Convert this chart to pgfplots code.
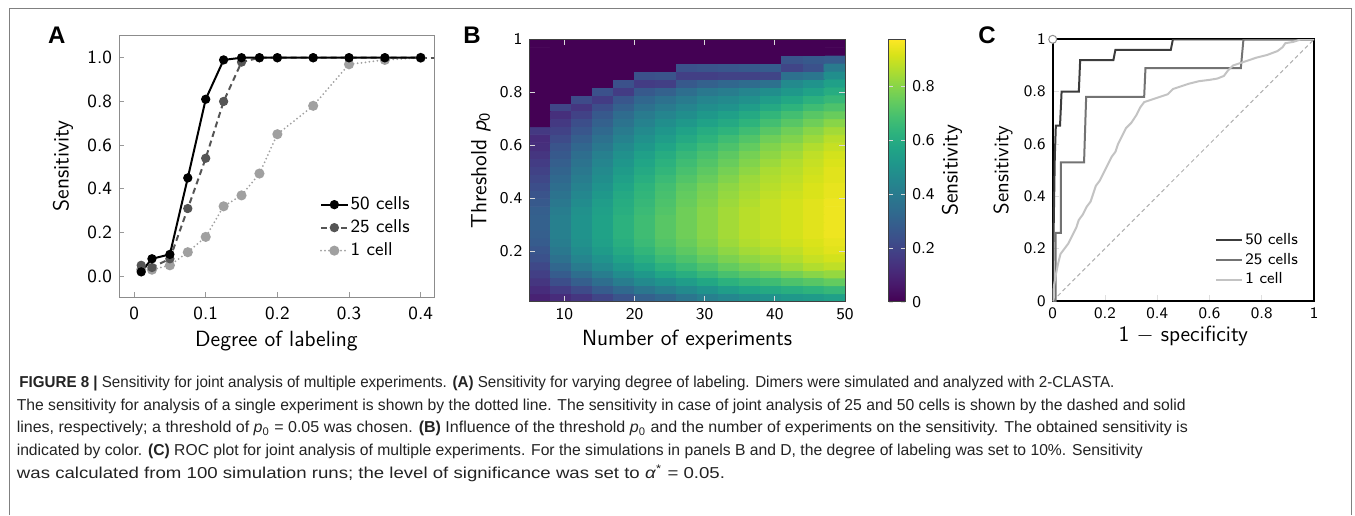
\documentclass[border=0pt]{standalone}
\usepackage{fontspec}
\usepackage{graphicx}
\usepackage{pgfplots}
\pgfplotsset{compat=1.18}
\newfontfamily\capfont{Liberation Sans}
\definecolor{aTwo}{RGB}{85,85,85}
\definecolor{aOne}{RGB}{160,160,160}
\definecolor{cFifty}{RGB}{60,60,60}
\definecolor{cTwo}{RGB}{115,115,115}
\definecolor{cOne}{RGB}{195,195,195}
\definecolor{capcol}{RGB}{35,35,35}

\begin{document}
\begin{tikzpicture}
\path[use as bounding box] (0pt,0pt) rectangle (677.5pt,-257.5pt);
\draw[black!50, line width=0.5pt] (4.5pt,-257.5pt) -- (4.5pt,-4pt) -- (675.5pt,-4pt) -- (675.5pt,-257.5pt);

% panel letters
\node[anchor=base west, inner sep=0pt] at (23.8pt,-21.9pt) {\capfont\fontsize{12}{14}\selectfont\bfseries A};
\node[anchor=base west, inner sep=0pt] at (231.5pt,-21.9pt) {\capfont\fontsize{12}{14}\selectfont\bfseries B};
\node[anchor=base west, inner sep=0pt] at (489pt,-21.9pt) {\capfont\fontsize{12}{14}\selectfont\bfseries C};

% ---------- A ----------
\begin{axis}[
  at={(59.5pt,-148.5pt)}, anchor=south west,
  width=157.5pt, height=131pt, scale only axis,
  xmin=-0.021, xmax=0.4186, ymin=-0.095, ymax=1.104,
  xtick={0,0.1,0.2,0.3,0.4}, xticklabels={0,0.1,0.2,0.3,0.4},
  ytick={0,0.2,0.4,0.6,0.8,1}, yticklabels={0.0,0.2,0.4,0.6,0.8,1.0},
  tick align=inside, tick pos=left, major tick length=2.5pt,
  axis line style={draw=black!45},
  tick style={black!40, line width=0.4pt},
  ticklabel style={font=\fontsize{9.3}{11}\selectfont\sffamily},
  xticklabel style={yshift=-1.5pt},
  xlabel={Degree of labeling}, ylabel={Sensitivity},
  label style={font=\fontsize{11}{13}\selectfont\sffamily},
  xlabel style={at={(axis description cs:0.5,0)}, anchor=base, yshift=-24.5pt},
  ylabel style={at={(axis description cs:0,0.5)}, anchor=center, yshift=28pt},
  legend style={draw=none, fill=none, at={(0.637,0.396)}, anchor=north west,
    inner sep=0pt, font=\fontsize{9.3}{11}\selectfont\sffamily,
    nodes={inner sep=1pt, text height=7pt, text depth=2pt}, row sep=0.5pt},
  legend cell align=left, reverse legend,
  legend image code/.code={\draw[mark repeat=2,mark phase=2,#1] plot coordinates {(0pt,0pt) (6.65pt,0pt) (13.3pt,0pt)};},
]
\addplot[aOne, line width=1pt, line cap=round, dash pattern=on 0pt off 2pt, mark=*, mark size=2pt, mark options={solid, fill=aOne}] coordinates {
(0.01,0.03) (0.025,0.03) (0.05,0.05) (0.075,0.11) (0.1,0.18) (0.125,0.32) (0.15,0.37)
(0.175,0.47) (0.2,0.65) (0.25,0.78) (0.3,0.97) (0.35,0.99) (0.4,1.0)};
\addlegendentry{1 cell}
\addplot[aTwo, line width=1pt, dash pattern=on 3pt off 2pt, forget plot] coordinates {(0.4,1.0) (0.45,1.0)};
\addplot[aTwo, line width=1pt, dash pattern=on 3pt off 2pt, mark=*, mark size=1.8pt, mark options={solid, fill=aTwo}] coordinates {
(0.01,0.05) (0.025,0.04) (0.05,0.08) (0.075,0.31) (0.1,0.54) (0.125,0.80) (0.15,0.98)
(0.175,1.0) (0.2,1.0) (0.25,1.0) (0.3,1.0) (0.35,1.0) (0.4,1.0)};
\addlegendentry{25 cells}
\addplot[black, line width=1pt, mark=*, mark size=1.8pt, mark options={solid, fill=black}] coordinates {
(0.01,0.02) (0.025,0.08) (0.05,0.10) (0.075,0.45) (0.1,0.81) (0.125,0.99) (0.15,1.0)
(0.175,1.0) (0.2,1.0) (0.25,1.0) (0.3,1.0) (0.35,1.0) (0.4,1.0)};
\addlegendentry{50 cells}
\end{axis}

% ---------- B ----------
\begin{axis}[
  at={(264.65pt,-150.85pt)}, anchor=south west,
  width=157.85pt, height=131.2pt, scale only axis,
  xmin=5, xmax=50, ymin=0.01, ymax=1,
  xtick={10,20,30,40,50}, xticklabels={10,20,30,40,50},
  ytick={0.2,0.4,0.6,0.8,1}, yticklabels={0.2,0.4,0.6,0.8,1},
  tick align=inside, major tick length=3pt,
  tick style={white!70!gray, line width=0.4pt},
  axis line style={draw=black!75},
  axis on top,
  ticklabel style={font=\fontsize{8.2}{10}\selectfont\sffamily},
  xlabel={Number of experiments}, ylabel={Threshold {\itshape p}\textsubscript{0}},
  label style={font=\fontsize{11}{13}\selectfont\sffamily},
  xlabel style={at={(axis description cs:0.5,0)}, anchor=base, yshift=-21.65pt},
  ylabel style={at={(axis description cs:0,0.5)}, anchor=center, yshift=24.2pt},
  colormap/viridis, point meta min=0, point meta max=0.973,
  colorbar,
  colorbar style={at={(parent axis.north east)}, anchor=north west, xshift=13.35pt, width=8.3pt,
    ytick={0,0.2,0.4,0.6,0.8}, yticklabels={0,0.2,0.4,0.6,0.8},
    tick align=inside, major tick length=2pt, tick style={white!70!gray},
    axis line style={draw=black!75},
    yticklabel style={font=\fontsize{8.2}{10}\selectfont\sffamily},
    ylabel={Sensitivity},
    ylabel style={font=\fontsize{11}{13}\selectfont\sffamily, at={(axis description cs:1,0.5)}, anchor=center, yshift=-23.35pt}},
]
\addplot[matrix plot*, mesh/cols=15, mesh/rows=33, point meta=explicit] table[row sep=\\, meta=c] {
x y c\\
6.5 0.025 0.09\\ 9.5 0.025 0.12\\ 12.5 0.025 0.15\\ 15.5 0.025 0.20\\ 18.5 0.025 0.25\\ 21.5 0.025 0.30\\ 24.5 0.025 0.33\\ 27.5 0.025 0.38\\ 30.5 0.025 0.42\\ 33.5 0.025 0.45\\ 36.5 0.025 0.48\\ 39.5 0.025 0.50\\ 42.5 0.025 0.52\\ 45.5 0.025 0.53\\ 48.5 0.025 0.55\\
6.5 0.055 0.12\\ 9.5 0.055 0.17\\ 12.5 0.055 0.22\\ 15.5 0.055 0.28\\ 18.5 0.055 0.33\\ 21.5 0.055 0.38\\ 24.5 0.055 0.42\\ 27.5 0.055 0.46\\ 30.5 0.055 0.50\\ 33.5 0.055 0.54\\ 36.5 0.055 0.57\\ 39.5 0.055 0.59\\ 42.5 0.055 0.61\\ 45.5 0.055 0.63\\ 48.5 0.055 0.65\\
6.5 0.085 0.15\\ 9.5 0.085 0.23\\ 12.5 0.085 0.29\\ 15.5 0.085 0.35\\ 18.5 0.085 0.41\\ 21.5 0.085 0.46\\ 24.5 0.085 0.50\\ 27.5 0.085 0.54\\ 30.5 0.085 0.58\\ 33.5 0.085 0.62\\ 36.5 0.085 0.65\\ 39.5 0.085 0.67\\ 42.5 0.085 0.70\\ 45.5 0.085 0.72\\ 48.5 0.085 0.74\\
6.5 0.115 0.18\\ 9.5 0.115 0.28\\ 12.5 0.115 0.35\\ 15.5 0.115 0.41\\ 18.5 0.115 0.47\\ 21.5 0.115 0.52\\ 24.5 0.115 0.57\\ 27.5 0.115 0.61\\ 30.5 0.115 0.65\\ 33.5 0.115 0.69\\ 36.5 0.115 0.72\\ 39.5 0.115 0.74\\ 42.5 0.115 0.77\\ 45.5 0.115 0.80\\ 48.5 0.115 0.82\\
6.5 0.145 0.21\\ 9.5 0.145 0.32\\ 12.5 0.145 0.40\\ 15.5 0.145 0.46\\ 18.5 0.145 0.52\\ 21.5 0.145 0.57\\ 24.5 0.145 0.62\\ 27.5 0.145 0.66\\ 30.5 0.145 0.70\\ 33.5 0.145 0.74\\ 36.5 0.145 0.77\\ 39.5 0.145 0.80\\ 42.5 0.145 0.83\\ 45.5 0.145 0.86\\ 48.5 0.145 0.88\\
6.5 0.175 0.24\\ 9.5 0.175 0.36\\ 12.5 0.175 0.44\\ 15.5 0.175 0.50\\ 18.5 0.175 0.56\\ 21.5 0.175 0.61\\ 24.5 0.175 0.66\\ 27.5 0.175 0.70\\ 30.5 0.175 0.74\\ 33.5 0.175 0.78\\ 36.5 0.175 0.81\\ 39.5 0.175 0.83\\ 42.5 0.175 0.86\\ 45.5 0.175 0.89\\ 48.5 0.175 0.91\\
6.5 0.205 0.26\\ 9.5 0.205 0.39\\ 12.5 0.205 0.47\\ 15.5 0.205 0.53\\ 18.5 0.205 0.59\\ 21.5 0.205 0.64\\ 24.5 0.205 0.69\\ 27.5 0.205 0.73\\ 30.5 0.205 0.77\\ 33.5 0.205 0.81\\ 36.5 0.205 0.84\\ 39.5 0.205 0.86\\ 42.5 0.205 0.88\\ 45.5 0.205 0.91\\ 48.5 0.205 0.93\\
6.5 0.235 0.28\\ 9.5 0.235 0.41\\ 12.5 0.235 0.49\\ 15.5 0.235 0.55\\ 18.5 0.235 0.61\\ 21.5 0.235 0.66\\ 24.5 0.235 0.71\\ 27.5 0.235 0.75\\ 30.5 0.235 0.79\\ 33.5 0.235 0.83\\ 36.5 0.235 0.86\\ 39.5 0.235 0.88\\ 42.5 0.235 0.90\\ 45.5 0.235 0.92\\ 48.5 0.235 0.94\\
6.5 0.265 0.29\\ 9.5 0.265 0.42\\ 12.5 0.265 0.50\\ 15.5 0.265 0.56\\ 18.5 0.265 0.62\\ 21.5 0.265 0.67\\ 24.5 0.265 0.72\\ 27.5 0.265 0.76\\ 30.5 0.265 0.80\\ 33.5 0.265 0.84\\ 36.5 0.265 0.87\\ 39.5 0.265 0.89\\ 42.5 0.265 0.91\\ 45.5 0.265 0.93\\ 48.5 0.265 0.95\\
6.5 0.295 0.30\\ 9.5 0.295 0.42\\ 12.5 0.295 0.50\\ 15.5 0.295 0.56\\ 18.5 0.295 0.62\\ 21.5 0.295 0.67\\ 24.5 0.295 0.72\\ 27.5 0.295 0.76\\ 30.5 0.295 0.80\\ 33.5 0.295 0.84\\ 36.5 0.295 0.87\\ 39.5 0.295 0.89\\ 42.5 0.295 0.91\\ 45.5 0.295 0.93\\ 48.5 0.295 0.95\\
6.5 0.325 0.30\\ 9.5 0.325 0.42\\ 12.5 0.325 0.50\\ 15.5 0.325 0.56\\ 18.5 0.325 0.62\\ 21.5 0.325 0.67\\ 24.5 0.325 0.72\\ 27.5 0.325 0.76\\ 30.5 0.325 0.80\\ 33.5 0.325 0.84\\ 36.5 0.325 0.87\\ 39.5 0.325 0.89\\ 42.5 0.325 0.91\\ 45.5 0.325 0.93\\ 48.5 0.325 0.95\\
6.5 0.355 0.29\\ 9.5 0.355 0.41\\ 12.5 0.355 0.49\\ 15.5 0.355 0.55\\ 18.5 0.355 0.61\\ 21.5 0.355 0.66\\ 24.5 0.355 0.71\\ 27.5 0.355 0.76\\ 30.5 0.355 0.80\\ 33.5 0.355 0.84\\ 36.5 0.355 0.87\\ 39.5 0.355 0.89\\ 42.5 0.355 0.91\\ 45.5 0.355 0.93\\ 48.5 0.355 0.95\\
6.5 0.385 0.27\\ 9.5 0.385 0.39\\ 12.5 0.385 0.47\\ 15.5 0.385 0.54\\ 18.5 0.385 0.60\\ 21.5 0.385 0.65\\ 24.5 0.385 0.70\\ 27.5 0.385 0.75\\ 30.5 0.385 0.79\\ 33.5 0.385 0.83\\ 36.5 0.385 0.86\\ 39.5 0.385 0.89\\ 42.5 0.385 0.91\\ 45.5 0.385 0.93\\ 48.5 0.385 0.95\\
6.5 0.415 0.25\\ 9.5 0.415 0.37\\ 12.5 0.415 0.45\\ 15.5 0.415 0.52\\ 18.5 0.415 0.59\\ 21.5 0.415 0.64\\ 24.5 0.415 0.69\\ 27.5 0.415 0.74\\ 30.5 0.415 0.78\\ 33.5 0.415 0.82\\ 36.5 0.415 0.85\\ 39.5 0.415 0.88\\ 42.5 0.415 0.90\\ 45.5 0.415 0.92\\ 48.5 0.415 0.94\\
6.5 0.445 0.23\\ 9.5 0.445 0.35\\ 12.5 0.445 0.43\\ 15.5 0.445 0.50\\ 18.5 0.445 0.57\\ 21.5 0.445 0.63\\ 24.5 0.445 0.68\\ 27.5 0.445 0.73\\ 30.5 0.445 0.77\\ 33.5 0.445 0.81\\ 36.5 0.445 0.84\\ 39.5 0.445 0.87\\ 42.5 0.445 0.89\\ 45.5 0.445 0.92\\ 48.5 0.445 0.94\\
6.5 0.475 0.21\\ 9.5 0.475 0.33\\ 12.5 0.475 0.41\\ 15.5 0.475 0.48\\ 18.5 0.475 0.55\\ 21.5 0.475 0.61\\ 24.5 0.475 0.66\\ 27.5 0.475 0.71\\ 30.5 0.475 0.75\\ 33.5 0.475 0.79\\ 36.5 0.475 0.83\\ 39.5 0.475 0.86\\ 42.5 0.475 0.88\\ 45.5 0.475 0.91\\ 48.5 0.475 0.93\\
6.5 0.505 0.19\\ 9.5 0.505 0.31\\ 12.5 0.505 0.39\\ 15.5 0.505 0.46\\ 18.5 0.505 0.53\\ 21.5 0.505 0.59\\ 24.5 0.505 0.64\\ 27.5 0.505 0.69\\ 30.5 0.505 0.73\\ 33.5 0.505 0.77\\ 36.5 0.505 0.81\\ 39.5 0.505 0.85\\ 42.5 0.505 0.87\\ 45.5 0.505 0.90\\ 48.5 0.505 0.93\\
6.5 0.535 0.17\\ 9.5 0.535 0.29\\ 12.5 0.535 0.37\\ 15.5 0.535 0.44\\ 18.5 0.535 0.51\\ 21.5 0.535 0.57\\ 24.5 0.535 0.62\\ 27.5 0.535 0.67\\ 30.5 0.535 0.71\\ 33.5 0.535 0.75\\ 36.5 0.535 0.79\\ 39.5 0.535 0.83\\ 42.5 0.535 0.86\\ 45.5 0.535 0.89\\ 48.5 0.535 0.92\\
6.5 0.565 0.15\\ 9.5 0.565 0.27\\ 12.5 0.565 0.35\\ 15.5 0.565 0.42\\ 18.5 0.565 0.49\\ 21.5 0.565 0.55\\ 24.5 0.565 0.60\\ 27.5 0.565 0.65\\ 30.5 0.565 0.69\\ 33.5 0.565 0.73\\ 36.5 0.565 0.77\\ 39.5 0.565 0.81\\ 42.5 0.565 0.84\\ 45.5 0.565 0.88\\ 48.5 0.565 0.91\\
6.5 0.595 0.13\\ 9.5 0.595 0.25\\ 12.5 0.595 0.32\\ 15.5 0.595 0.39\\ 18.5 0.595 0.46\\ 21.5 0.595 0.52\\ 24.5 0.595 0.57\\ 27.5 0.595 0.62\\ 30.5 0.595 0.66\\ 33.5 0.595 0.70\\ 36.5 0.595 0.74\\ 39.5 0.595 0.79\\ 42.5 0.595 0.82\\ 45.5 0.595 0.86\\ 48.5 0.595 0.89\\
6.5 0.625 0.12\\ 9.5 0.625 0.22\\ 12.5 0.625 0.29\\ 15.5 0.625 0.36\\ 18.5 0.625 0.43\\ 21.5 0.625 0.49\\ 24.5 0.625 0.54\\ 27.5 0.625 0.59\\ 30.5 0.625 0.63\\ 33.5 0.625 0.67\\ 36.5 0.625 0.71\\ 39.5 0.625 0.76\\ 42.5 0.625 0.79\\ 45.5 0.625 0.83\\ 48.5 0.625 0.87\\
6.5 0.655 0.16\\ 9.5 0.655 0.19\\ 12.5 0.655 0.26\\ 15.5 0.655 0.33\\ 18.5 0.655 0.40\\ 21.5 0.655 0.46\\ 24.5 0.655 0.51\\ 27.5 0.655 0.56\\ 30.5 0.655 0.60\\ 33.5 0.655 0.63\\ 36.5 0.655 0.67\\ 39.5 0.655 0.72\\ 42.5 0.655 0.76\\ 45.5 0.655 0.80\\ 48.5 0.655 0.84\\
6.5 0.685 0\\ 9.5 0.685 0.16\\ 12.5 0.685 0.23\\ 15.5 0.685 0.30\\ 18.5 0.685 0.37\\ 21.5 0.685 0.43\\ 24.5 0.685 0.48\\ 27.5 0.685 0.52\\ 30.5 0.685 0.56\\ 33.5 0.685 0.59\\ 36.5 0.685 0.63\\ 39.5 0.685 0.68\\ 42.5 0.685 0.72\\ 45.5 0.685 0.76\\ 48.5 0.685 0.80\\
6.5 0.715 0\\ 9.5 0.715 0.13\\ 12.5 0.715 0.19\\ 15.5 0.715 0.27\\ 18.5 0.715 0.34\\ 21.5 0.715 0.40\\ 24.5 0.715 0.44\\ 27.5 0.715 0.48\\ 30.5 0.715 0.52\\ 33.5 0.715 0.55\\ 36.5 0.715 0.59\\ 39.5 0.715 0.64\\ 42.5 0.715 0.68\\ 45.5 0.715 0.72\\ 48.5 0.715 0.75\\
6.5 0.745 0\\ 9.5 0.745 0.20\\ 12.5 0.745 0.15\\ 15.5 0.745 0.23\\ 18.5 0.745 0.30\\ 21.5 0.745 0.36\\ 24.5 0.745 0.40\\ 27.5 0.745 0.44\\ 30.5 0.745 0.48\\ 33.5 0.745 0.50\\ 36.5 0.745 0.54\\ 39.5 0.745 0.59\\ 42.5 0.745 0.63\\ 45.5 0.745 0.67\\ 48.5 0.745 0.70\\
6.5 0.775 0\\ 9.5 0.775 0\\ 12.5 0.775 0.22\\ 15.5 0.775 0.17\\ 18.5 0.775 0.26\\ 21.5 0.775 0.32\\ 24.5 0.775 0.36\\ 27.5 0.775 0.40\\ 30.5 0.775 0.44\\ 33.5 0.775 0.46\\ 36.5 0.775 0.49\\ 39.5 0.775 0.54\\ 42.5 0.775 0.58\\ 45.5 0.775 0.62\\ 48.5 0.775 0.65\\
6.5 0.805 0\\ 9.5 0.805 0\\ 12.5 0.805 0\\ 15.5 0.805 0.24\\ 18.5 0.805 0.17\\ 21.5 0.805 0.27\\ 24.5 0.805 0.30\\ 27.5 0.805 0.35\\ 30.5 0.805 0.39\\ 33.5 0.805 0.41\\ 36.5 0.805 0.44\\ 39.5 0.805 0.48\\ 42.5 0.805 0.52\\ 45.5 0.805 0.56\\ 48.5 0.805 0.60\\
6.5 0.835 0\\ 9.5 0.835 0\\ 12.5 0.835 0\\ 15.5 0.835 0\\ 18.5 0.835 0.24\\ 21.5 0.835 0.17\\ 24.5 0.835 0.18\\ 27.5 0.835 0.27\\ 30.5 0.835 0.30\\ 33.5 0.835 0.32\\ 36.5 0.835 0.34\\ 39.5 0.835 0.36\\ 42.5 0.835 0.46\\ 45.5 0.835 0.50\\ 48.5 0.835 0.55\\
6.5 0.865 0\\ 9.5 0.865 0\\ 12.5 0.865 0\\ 15.5 0.865 0\\ 18.5 0.865 0\\ 21.5 0.865 0.24\\ 24.5 0.865 0.25\\ 27.5 0.865 0.18\\ 30.5 0.865 0.18\\ 33.5 0.865 0.19\\ 36.5 0.865 0.19\\ 39.5 0.865 0.20\\ 42.5 0.865 0.36\\ 45.5 0.865 0.38\\ 48.5 0.865 0.48\\
6.5 0.895 0\\ 9.5 0.895 0\\ 12.5 0.895 0\\ 15.5 0.895 0\\ 18.5 0.895 0\\ 21.5 0.895 0\\ 24.5 0.895 0\\ 27.5 0.895 0.24\\ 30.5 0.895 0.25\\ 33.5 0.895 0.26\\ 36.5 0.895 0.27\\ 39.5 0.895 0.28\\ 42.5 0.895 0.20\\ 45.5 0.895 0.24\\ 48.5 0.895 0.40\\
6.5 0.925 0\\ 9.5 0.925 0\\ 12.5 0.925 0\\ 15.5 0.925 0\\ 18.5 0.925 0\\ 21.5 0.925 0\\ 24.5 0.925 0\\ 27.5 0.925 0\\ 30.5 0.925 0\\ 33.5 0.925 0\\ 36.5 0.925 0\\ 39.5 0.925 0\\ 42.5 0.925 0.25\\ 45.5 0.925 0.27\\ 48.5 0.925 0.28\\
6.5 0.955 0\\ 9.5 0.955 0\\ 12.5 0.955 0\\ 15.5 0.955 0\\ 18.5 0.955 0\\ 21.5 0.955 0\\ 24.5 0.955 0\\ 27.5 0.955 0\\ 30.5 0.955 0\\ 33.5 0.955 0\\ 36.5 0.955 0\\ 39.5 0.955 0\\ 42.5 0.955 0\\ 45.5 0.955 0\\ 48.5 0.955 0\\
6.5 0.985 0\\ 9.5 0.985 0\\ 12.5 0.985 0\\ 15.5 0.985 0\\ 18.5 0.985 0\\ 21.5 0.985 0\\ 24.5 0.985 0\\ 27.5 0.985 0\\ 30.5 0.985 0\\ 33.5 0.985 0\\ 36.5 0.985 0\\ 39.5 0.985 0\\ 42.5 0.985 0\\ 45.5 0.985 0\\ 48.5 0.985 0\\
};
\end{axis}

% ---------- C ----------
\begin{axis}[
  at={(526.35pt,-150.5pt)}, anchor=south west,
  width=130.65pt, height=130.85pt, scale only axis,
  xmin=0, xmax=1, ymin=0, ymax=1,
  xtick={0,0.2,0.4,0.6,0.8,1}, xticklabels={0,0.2,0.4,0.6,0.8,1},
  ytick={0,0.2,0.4,0.6,0.8,1}, yticklabels={0,0.2,0.4,0.6,0.8,1},
  tick align=inside, tick pos=left, major tick length=3pt,
  tick style={white!75!gray, line width=0.4pt},
  axis line style={draw=black, line width=1pt},
  ticklabel style={font=\fontsize{8}{10}\selectfont\sffamily},
  xlabel={1 $-$ specificity}, ylabel={Sensitivity},
  label style={font=\fontsize{11}{13}\selectfont\sffamily},
  xlabel style={at={(axis description cs:0.5,0)}, anchor=base, yshift=-20.35pt},
  ylabel style={font=\fontsize{10.4}{12}\selectfont\sffamily, at={(axis description cs:0,0.5)}, anchor=center, yshift=24.85pt},
  legend style={draw=none, fill=none, at={(0.62,0.2705)}, anchor=north west,
    inner sep=0pt, font=\fontsize{8}{10}\selectfont\sffamily,
    nodes={inner sep=1pt, text height=6pt, text depth=1.8pt}, row sep=0pt},
  legend cell align=left,
  legend image code/.code={\draw[#1] (0pt,0pt) -- (13.15pt,0pt);},
]
\addplot[cOne!70!gray, line width=0.5pt, dash pattern=on 2pt off 1.5pt, forget plot] coordinates {(0,0) (1,1)};
\addplot[cFifty, line width=1pt] coordinates {
(0,0) (0.004,0.3) (0.008,0.55) (0.012,0.67) (0.028,0.67) (0.034,0.8) (0.1,0.8)
(0.105,0.92) (0.232,0.92) (0.24,0.96) (0.452,0.96) (0.46,1) (1,1)};
\addlegendentry{50 cells}
\addplot[cTwo, line width=1pt] coordinates {
(0,0) (0.011,0) (0.011,0.26) (0.031,0.26) (0.031,0.53) (0.12,0.53) (0.128,0.78)
(0.35,0.78) (0.355,0.89) (0.72,0.89) (0.73,1) (1,1)};
\addlegendentry{25 cells}
\addplot[cOne, line width=1pt] coordinates {
(0,0) (0.005,0.06) (0.012,0.1) (0.02,0.14) (0.03,0.18) (0.045,0.2) (0.06,0.22)
(0.075,0.25) (0.09,0.28) (0.1,0.31) (0.115,0.33) (0.13,0.36) (0.145,0.38) (0.155,0.41)
(0.165,0.44) (0.18,0.46) (0.195,0.49) (0.21,0.52) (0.225,0.55) (0.24,0.57) (0.25,0.6)
(0.265,0.63) (0.28,0.66) (0.3,0.68) (0.32,0.71) (0.335,0.74) (0.35,0.76) (0.38,0.77)
(0.41,0.78) (0.44,0.79) (0.46,0.81) (0.49,0.82) (0.52,0.83) (0.56,0.84) (0.6,0.845)
(0.63,0.85) (0.655,0.86) (0.67,0.88) (0.69,0.9) (0.72,0.91) (0.75,0.92) (0.78,0.93)
(0.82,0.94) (0.86,0.955) (0.88,0.97) (0.89,0.985) (0.92,0.99) (0.95,1) (1,1)};
\addlegendentry{1 cell}
\addplot[only marks, mark=*, mark size=2pt, mark options={draw=black!45, fill=white, line width=0.5pt}, forget plot] coordinates {(0,1)};
\end{axis}

% ---------- caption ----------
\node[anchor=base west, inner sep=0pt, text=capcol] at (9.5pt,-193.5pt) {\resizebox{547.5pt}{\height}{\capfont\fontsize{7.9}{10}\selectfont {\bfseries FIGURE 8 |} Sensitivity for joint analysis of multiple experiments. {\bfseries (A)} Sensitivity for varying degree of labeling. Dimers were simulated and analyzed with 2-CLASTA.}};
\node[anchor=base west, inner sep=0pt, text=capcol] at (8.2pt,-205pt) {\resizebox{584.5pt}{\height}{\capfont\fontsize{7.9}{10}\selectfont The sensitivity for analysis of a single experiment is shown by the dotted line. The sensitivity in case of joint analysis of 25 and 50 cells is shown by the dashed and solid}};
\node[anchor=base west, inner sep=0pt, text=capcol] at (8.2pt,-216.4pt) {\resizebox{585.5pt}{\height}{\capfont\fontsize{7.9}{10}\selectfont lines, respectively; a threshold of \textit{p}\textsubscript{0} = 0.05 was chosen. {\bfseries (B)} Influence of the threshold \textit{p}\textsubscript{0} and the number of experiments on the sensitivity. The obtained sensitivity is}};
\node[anchor=base west, inner sep=0pt, text=capcol] at (8.2pt,-227.7pt) {\resizebox{563pt}{\height}{\capfont\fontsize{7.9}{10}\selectfont indicated by color. {\bfseries (C)} ROC plot for joint analysis of multiple experiments. For the simulations in panels B and D, the degree of labeling was set to 10\%. Sensitivity}};
\node[anchor=base west, inner sep=0pt, text=capcol] at (8.3pt,-239pt) {\resizebox{354pt}{\height}{\capfont\fontsize{7.9}{10}\selectfont was calculated from 100 simulation runs; the level of significance was set to \textit{α}\textsuperscript{*} = 0.05.}};
\end{tikzpicture}
\end{document}
